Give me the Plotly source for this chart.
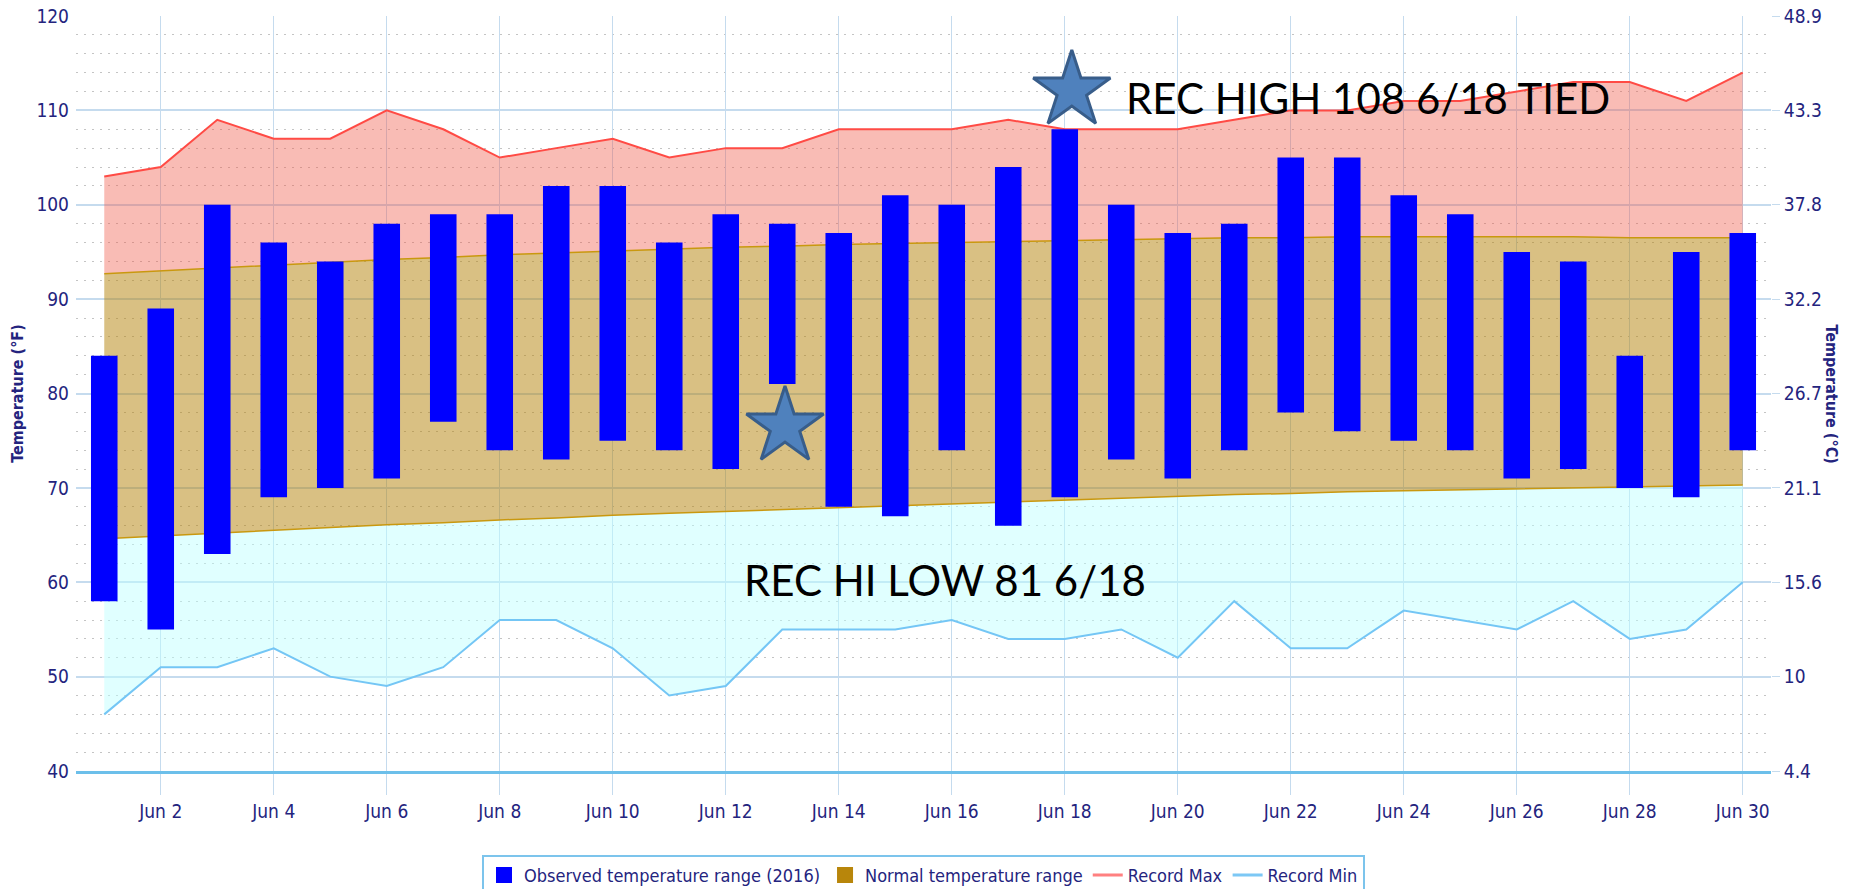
import plotly.graph_objects as go
import pandas as pd

days = pd.date_range("2016-06-01", "2016-06-30", freq="D")

obs_high = [84, 89, 100, 96, 94, 98, 99, 99, 102, 102, 96, 99, 98, 97, 101, 100, 104, 108, 100, 97,
            98, 105, 105, 101, 99, 95, 94, 84, 95, 97]
obs_low = [58, 55, 63, 69, 70, 71, 77, 74, 73, 75, 74, 72, 81, 68, 67, 74, 66, 69, 73, 71,
           74, 78, 76, 75, 74, 71, 72, 70, 69, 74]
normal_high = [92.7, 93.0, 93.3, 93.6, 93.9, 94.2, 94.4, 94.7, 94.9, 95.1, 95.3, 95.5, 95.6, 95.8, 95.9,
               96.0, 96.1, 96.2, 96.3, 96.4, 96.5, 96.5, 96.6, 96.6, 96.6, 96.6, 96.6, 96.5, 96.5, 96.5]
normal_low = [64.6, 64.9, 65.2, 65.5, 65.8, 66.1, 66.3, 66.6, 66.8, 67.1, 67.3, 67.5, 67.7, 67.9, 68.1,
              68.3, 68.5, 68.7, 68.9, 69.1, 69.3, 69.4, 69.6, 69.7, 69.8, 69.9, 70.0, 70.1, 70.2, 70.3]
record_max = [103, 104, 109, 107, 107, 110, 108, 105, 106, 107, 105, 106, 106, 108, 108, 108, 109, 108,
              108, 108, 109, 110, 110, 111, 111, 112, 113, 113, 111, 114]
record_min = [46, 51, 51, 53, 50, 49, 51, 56, 56, 53, 48, 49, 55, 55, 55, 56, 54, 54, 55, 52,
              58, 53, 53, 57, 56, 55, 58, 54, 55, 60]

f_ticks = [40, 50, 60, 70, 80, 90, 100, 110, 120]
c_ticks = ["4.4", "10", "15.6", "21.1", "26.7", "32.2", "37.8", "43.3", "48.9"]

star_dates = ["2016-06-18 03:00", "2016-06-13 01:10"]
star_values = [112.1, 76.5]
note_dates = ["2016-06-19 01:00", "2016-06-12 07:00"]
note_values = [111.3, 60.2]
note_texts = ["REC HIGH 108 6/18 TIED", "REC HI LOW 81 6/18"]

NAVY = "#24247e"
GRID = "#c5dbee"
TICKFONT = "DejaVu Sans Condensed, Liberation Sans Narrow, Liberation Sans, sans-serif"

fig = go.Figure()

# Filled climatology areas (main axis, beneath bars)
fig.add_trace(go.Scatter(x=days, y=record_min, mode="lines", line=dict(color="#74c6f5", width=2),
                         showlegend=False, hoverinfo="skip"))
fig.add_trace(go.Scatter(x=days, y=normal_low, mode="lines", line=dict(color="#c9980f", width=1.5),
                         fill="tonexty", fillcolor="rgba(190,255,255,0.48)", showlegend=False,
                         hoverinfo="skip"))
fig.add_trace(go.Scatter(x=days, y=normal_high, mode="lines", line=dict(color="#c9980f", width=1.5),
                         fill="tonexty", fillcolor="rgba(180,130,8,0.5)", showlegend=False,
                         hoverinfo="skip"))
fig.add_trace(go.Scatter(x=days, y=record_max, mode="lines", line=dict(color="#ff4b45", width=2),
                         fill="tonexty", fillcolor="rgba(240,88,70,0.4)", showlegend=False,
                         hoverinfo="skip"))

# Observed bars on overlay axis so they draw above the fills
fig.add_trace(go.Bar(x=days, y=[h - l for h, l in zip(obs_high, obs_low)], base=obs_low,
                     width=0.47 * 86400000, marker=dict(color="#0000ff", line=dict(width=0)),
                     showlegend=False, yaxis="y2"))

# Legend-only entries
fig.add_trace(go.Scatter(x=[None], y=[None], mode="markers",
                         marker=dict(symbol="square", size=22, color="#0000ff"),
                         name="Observed temperature range (2016)", yaxis="y2"))
fig.add_trace(go.Scatter(x=[None], y=[None], mode="markers",
                         marker=dict(symbol="square", size=22, color="#b8860b"),
                         name="Normal temperature range", yaxis="y2"))
fig.add_trace(go.Scatter(x=[None], y=[None], mode="lines", line=dict(color="#ff8080", width=3),
                         name="Record Max", yaxis="y2"))
fig.add_trace(go.Scatter(x=[None], y=[None], mode="lines", line=dict(color="#7cc8f5", width=3),
                         name="Record Min", yaxis="y2"))

# Stars
fig.add_trace(go.Scatter(x=pd.to_datetime(star_dates), y=star_values, mode="markers",
                         marker=dict(symbol="star", size=58, color="#4f81bd",
                                     line=dict(color="#385d8a", width=3)),
                         showlegend=False, yaxis="y2", hoverinfo="skip"))

for d, v, t in zip(note_dates, note_values, note_texts):
    fig.add_annotation(x=d, y=v, xref="x", yref="y", text=t, showarrow=False, xanchor="left",
                       yanchor="middle", font=dict(family="Lato, Open Sans, sans-serif", size=42,
                                                   color="#000000"))

fig.add_annotation(x=1.0, xref="paper", xshift=60, xanchor="center", y=0.5, yref="paper",
                   text="<b>Temperature (°C)</b>", showarrow=False, textangle=90,
                   font=dict(family=TICKFONT, size=16, color=NAVY))

fig.update_layout(
    width=1855, height=889,
    margin=dict(l=76, r=84, t=16, b=118, autoexpand=False),
    paper_bgcolor="white", plot_bgcolor="white",
    barmode="overlay",
    showlegend=True,
    legend=dict(orientation="h", x=0.5, xanchor="center", y=-0.111, yanchor="top",
                bordercolor="#7cc4ec", borderwidth=2, bgcolor="white",
                font=dict(family=TICKFONT, size=18, color=NAVY), traceorder="normal",
                itemwidth=30),
    xaxis=dict(type="date", range=["2016-05-31 12:00", "2016-06-30 12:00"],
               tick0="2016-06-02", dtick=2 * 86400000, tickformat="%b %-d",
               showgrid=True, gridcolor=GRID, gridwidth=1,
               ticks="outside", ticklen=21, tickcolor=GRID, tickwidth=1,
               showline=True, linecolor="#6cbfea", linewidth=3, automargin=False,
               tickfont=dict(family=TICKFONT, size=19, color=NAVY), zeroline=False),
    yaxis=dict(range=[40, 120], tickvals=f_ticks, showgrid=True, gridcolor=GRID, gridwidth=1.5,
               minor=dict(dtick=2, showgrid=True, gridcolor="#c4c4c4", griddash="2px,6px", gridwidth=1),
               ticks="", ticklabelstandoff=6, automargin=False,
               tickfont=dict(family=TICKFONT, size=19, color=NAVY),
               title=dict(text="<b>Temperature (°F)</b>", standoff=8,
                          font=dict(family=TICKFONT, size=16, color=NAVY)),
               zeroline=False),
    yaxis2=dict(range=[40, 120], overlaying="y", side="right", tickvals=f_ticks, ticktext=c_ticks,
                showgrid=False, ticks="outside", ticklen=8, tickcolor=GRID, automargin=False,
                tickfont=dict(family=TICKFONT, size=19, color=NAVY), zeroline=False),
)

fig.write_html("out.html", config={"displayModeBar": False},
               post_script="document.body.style.margin='0';document.body.style.overflow='hidden';")
